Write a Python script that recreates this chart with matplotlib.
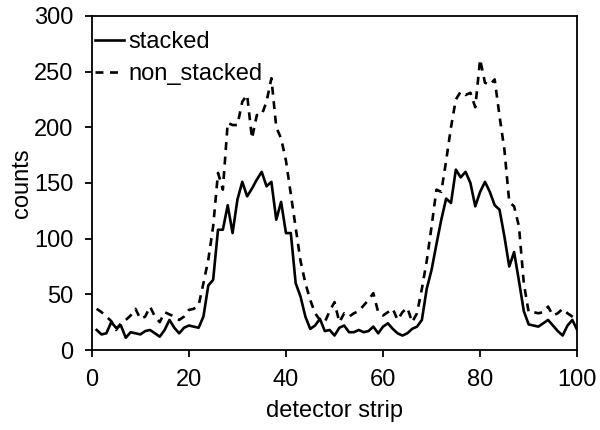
import numpy as np
import matplotlib
matplotlib.use("Agg")
import matplotlib.pyplot as plt

plt.rcParams['font.family'] = ['Liberation Sans', 'DejaVu Sans']

# detector strip numbers
strip = np.arange(1, 101)

# counts
stacked = [18, 14, 15, 25, 20, 22, 11, 16, 15, 14,
           17, 18, 15, 12, 18, 27, 20, 15, 20, 22,
           21, 20, 30, 58, 63, 108, 108, 130, 105, 135,
           151, 138, 145, 153, 160, 147, 151, 117, 133, 105,
           105, 60, 48, 30, 19, 22, 28, 17, 18, 13,
           20, 22, 16, 16, 18, 16, 17, 21, 15, 21,
           24, 19, 15, 13, 15, 19, 21, 27, 55, 72,
           95, 117, 136, 132, 162, 155, 160, 150, 129, 142,
           151, 142, 130, 126, 102, 75, 88, 62, 35, 23,
           22, 21, 24, 27, 22, 17, 13, 22, 27, 18]

non_stacked = [37, 34, 30, 26, 18, 24, 27, 31, 37, 28,
               30, 39, 30, 25, 34, 32, 30, 27, 30, 36,
               37, 40, 60, 81, 111, 159, 144, 204, 202, 202,
               223, 229, 190, 211, 211, 223, 244, 200, 190, 170,
               140, 110, 80, 60, 45, 33, 27, 25, 35, 43,
               25, 33, 30, 33, 35, 40, 45, 51, 34, 31,
               34, 37, 27, 34, 38, 25, 33, 55, 80, 111,
               144, 142, 170, 200, 225, 232, 229, 231, 218, 261,
               240, 238, 243, 210, 180, 133, 129, 111, 60, 34,
               34, 33, 34, 39, 31, 33, 37, 33, 30, 27]

fig = plt.figure(figsize=(6, 4.3), dpi=100)
ax = fig.add_axes([0.153, 0.186, 0.809, 0.777])

ax.plot(strip, stacked, color='k', lw=1.9, label='stacked')
ax.plot(strip, non_stacked, color='k', lw=1.9, dashes=(3, 2.5), label='non_stacked')

ax.set_xlim(0, 100)
ax.set_ylim(0, 300)
ax.set_xticks(range(0, 101, 20))
ax.set_yticks(range(0, 301, 50))
ax.tick_params(direction='out', length=5, width=1.3, labelsize=17)
ax.tick_params(axis='x', pad=9)
ax.tick_params(axis='y', pad=8)
for s in ax.spines.values():
    s.set_linewidth(1.3)

ax.set_xlabel('detector strip', fontsize=17, labelpad=6)
ax.set_ylabel('counts', fontsize=17, labelpad=1)

ax.legend(loc='upper left', bbox_to_anchor=(0.0, 0.966), frameon=False, fontsize=17,
          handlelength=1.2, handletextpad=0.2, borderaxespad=0.05, borderpad=0.1,
          labelspacing=0.45)

fig.savefig('out.png', dpi=100)
